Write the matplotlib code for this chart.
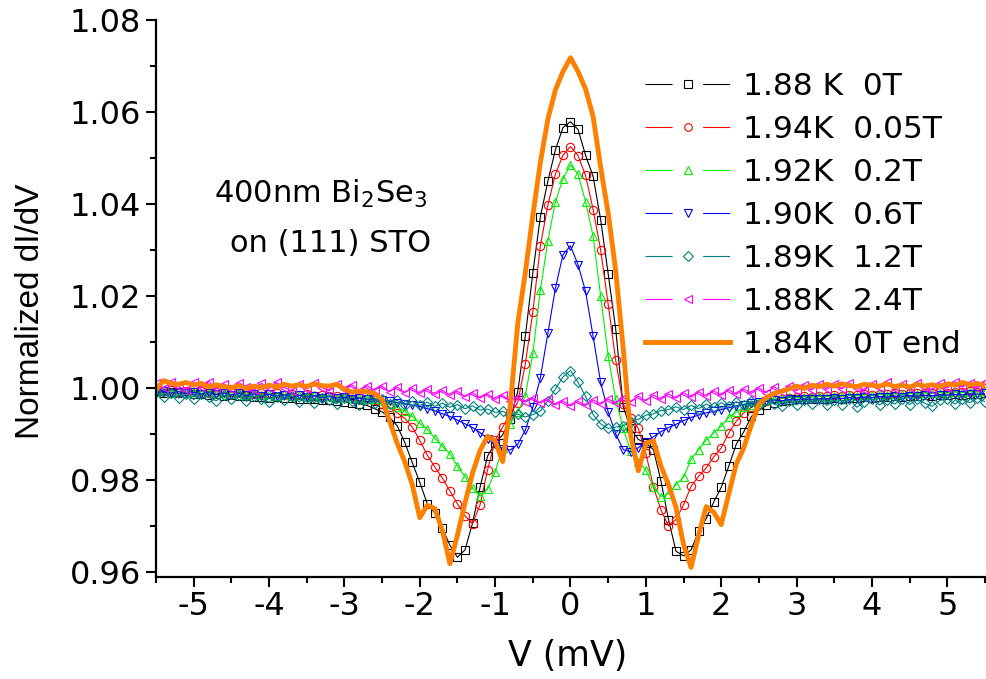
import numpy as np
import matplotlib
matplotlib.use('Agg')
import matplotlib.pyplot as plt
from matplotlib.lines import Line2D
from matplotlib.ticker import MultipleLocator, FormatStrFormatter

plt.rcParams['font.family'] = 'DejaVu Sans'
plt.rcParams['axes.unicode_minus'] = False
plt.rcParams['mathtext.default'] = 'regular'
plt.rcParams['lines.scale_dashes'] = False

# bias voltage (mV), 0.1 mV steps from -5.5 to 5.5
voltage = np.round(np.linspace(-5.5, 5.5, 111), 2)

# normalized dI/dV, one row = 10 points (last row 11)
didv_188K_0T = [
    0.9994, 0.9990, 0.9991, 0.9988, 0.9989, 0.9986, 0.9987, 0.9985, 0.9986, 0.9983,
    0.9984, 0.9982, 0.9983, 0.9980, 0.9981, 0.9979, 0.9980, 0.9978, 0.9979, 0.9976,
    0.9977, 0.9975, 0.9974, 0.9973, 0.9972, 0.9970, 0.9968, 0.9966, 0.9962, 0.9955,
    0.9948, 0.9936, 0.9918, 0.9882, 0.9838, 0.9795, 0.9748, 0.9728, 0.9695, 0.9658,
    0.9632, 0.9648, 0.9706, 0.9784, 0.9852, 0.9880, 0.9898, 0.9932, 0.9992, 1.0112,
    1.0250, 1.0372, 1.0450, 1.0518, 1.0566, 1.0579, 1.0562, 1.0506, 1.0460, 1.0366,
    1.0248, 1.0128, 0.9958, 0.9912, 0.9888, 0.9880, 0.9866, 0.9798, 0.9714, 0.9645,
    0.9635, 0.9648, 0.9688, 0.9716, 0.9752, 0.9784, 0.9830, 0.9878, 0.9905, 0.9938,
    0.9952, 0.9962, 0.9968, 0.9972, 0.9974, 0.9975, 0.9976, 0.9975, 0.9977, 0.9976,
    0.9978, 0.9977, 0.9979, 0.9978, 0.9980, 0.9979, 0.9981, 0.9980, 0.9982, 0.9981,
    0.9983, 0.9982, 0.9984, 0.9983, 0.9985, 0.9984, 0.9986, 0.9985, 0.9987, 0.9986, 0.9988,
]
didv_194K_005T = [
    0.9996, 0.9993, 0.9995, 0.9992, 0.9994, 0.9991, 0.9993, 0.9990, 0.9992, 0.9989,
    0.9991, 0.9988, 0.9990, 0.9987, 0.9989, 0.9986, 0.9988, 0.9985, 0.9987, 0.9984,
    0.9986, 0.9983, 0.9984, 0.9982, 0.9983, 0.9981, 0.9982, 0.9979, 0.9977, 0.9973,
    0.9966, 0.9958, 0.9946, 0.9934, 0.9915, 0.9886, 0.9854, 0.9828, 0.9804, 0.9776,
    0.9748, 0.9722, 0.9705, 0.9746, 0.9822, 0.9886, 0.9915, 0.9945, 0.9968, 1.0052,
    1.0165, 1.0309, 1.0398, 1.0465, 1.0506, 1.0525, 1.0505, 1.0462, 1.0388, 1.0300,
    1.0182, 1.0060, 0.9965, 0.9935, 0.9912, 0.9858, 0.9785, 0.9735, 0.9700, 0.9714,
    0.9746, 0.9786, 0.9808, 0.9826, 0.9850, 0.9870, 0.9902, 0.9928, 0.9946, 0.9958,
    0.9966, 0.9971, 0.9975, 0.9977, 0.9979, 0.9980, 0.9982, 0.9981, 0.9983, 0.9982,
    0.9984, 0.9983, 0.9985, 0.9984, 0.9986, 0.9985, 0.9987, 0.9986, 0.9988, 0.9987,
    0.9989, 0.9988, 0.9990, 0.9989, 0.9991, 0.9990, 0.9992, 0.9991, 0.9993, 0.9992, 0.9994,
]
didv_192K_02T = [
    0.9992, 0.9995, 0.9990, 0.9993, 0.9989, 0.9992, 0.9988, 0.9991, 0.9987, 0.9990,
    0.9986, 0.9989, 0.9985, 0.9988, 0.9984, 0.9987, 0.9983, 0.9986, 0.9982, 0.9985,
    0.9981, 0.9984, 0.9980, 0.9983, 0.9979, 0.9981, 0.9978, 0.9979, 0.9976, 0.9977,
    0.9972, 0.9966, 0.9958, 0.9950, 0.9938, 0.9923, 0.9910, 0.9891, 0.9873, 0.9857,
    0.9830, 0.9807, 0.9782, 0.9765, 0.9780, 0.9818, 0.9870, 0.9922, 0.9948, 0.9982,
    1.0075, 1.0213, 1.0320, 1.0405, 1.0455, 1.0485, 1.0465, 1.0405, 1.0330, 1.0200,
    1.0070, 0.9975, 0.9912, 0.9862, 0.9840, 0.9822, 0.9785, 0.9764, 0.9770, 0.9790,
    0.9806, 0.9845, 0.9866, 0.9887, 0.9902, 0.9917, 0.9936, 0.9948, 0.9958, 0.9964,
    0.9969, 0.9973, 0.9976, 0.9978, 0.9980, 0.9979, 0.9981, 0.9980, 0.9982, 0.9981,
    0.9983, 0.9982, 0.9984, 0.9983, 0.9985, 0.9984, 0.9986, 0.9985, 0.9987, 0.9986,
    0.9988, 0.9987, 0.9989, 0.9988, 0.9990, 0.9989, 0.9991, 0.9990, 0.9992, 0.9991, 0.9993,
]
didv_190K_06T = [
    0.9990, 0.9993, 0.9989, 0.9992, 0.9988, 0.9991, 0.9987, 0.9990, 0.9986, 0.9989,
    0.9985, 0.9988, 0.9984, 0.9987, 0.9983, 0.9986, 0.9982, 0.9985, 0.9981, 0.9984,
    0.9980, 0.9983, 0.9979, 0.9981, 0.9978, 0.9980, 0.9977, 0.9978, 0.9975, 0.9976,
    0.9973, 0.9971, 0.9968, 0.9966, 0.9963, 0.9960, 0.9955, 0.9950, 0.9944, 0.9938,
    0.9930, 0.9922, 0.9914, 0.9903, 0.9890, 0.9878, 0.9868, 0.9865, 0.9878, 0.9908,
    0.9958, 1.0022, 1.0119, 1.0217, 1.0290, 1.0309, 1.0268, 1.0210, 1.0112, 1.0012,
    0.9948, 0.9900, 0.9866, 0.9861, 0.9870, 0.9883, 0.9894, 0.9905, 0.9914, 0.9921,
    0.9929, 0.9936, 0.9941, 0.9946, 0.9949, 0.9953, 0.9957, 0.9961, 0.9964, 0.9967,
    0.9969, 0.9971, 0.9973, 0.9972, 0.9975, 0.9974, 0.9976, 0.9975, 0.9977, 0.9976,
    0.9978, 0.9977, 0.9979, 0.9978, 0.9980, 0.9979, 0.9981, 0.9980, 0.9982, 0.9981,
    0.9983, 0.9982, 0.9984, 0.9983, 0.9985, 0.9984, 0.9986, 0.9985, 0.9987, 0.9986, 0.9988,
]
didv_189K_12T = [
    0.9992, 0.9981, 0.9989, 0.9978, 0.9987, 0.9975, 0.9986, 0.9980, 0.9972, 0.9984,
    0.9975, 0.9985, 0.9971, 0.9982, 0.9976, 0.9969, 0.9981, 0.9974, 0.9983, 0.9970,
    0.9980, 0.9968, 0.9979, 0.9973, 0.9966, 0.9978, 0.9971, 0.9964, 0.9976, 0.9968,
    0.9975, 0.9966, 0.9973, 0.9964, 0.9971, 0.9962, 0.9969, 0.9960, 0.9967, 0.9958,
    0.9964, 0.9955, 0.9961, 0.9952, 0.9954, 0.9947, 0.9949, 0.9942, 0.9943, 0.9937,
    0.9942, 0.9950, 0.9972, 0.9998, 1.0024, 1.0038, 1.0012, 0.9982, 0.9942, 0.9922,
    0.9912, 0.9915, 0.9918, 0.9927, 0.9932, 0.9941, 0.9944, 0.9951, 0.9953, 0.9959,
    0.9953, 0.9962, 0.9955, 0.9965, 0.9958, 0.9968, 0.9960, 0.9970, 0.9962, 0.9972,
    0.9964, 0.9974, 0.9965, 0.9960, 0.9972, 0.9963, 0.9974, 0.9966, 0.9976, 0.9962,
    0.9973, 0.9964, 0.9975, 0.9958, 0.9970, 0.9976, 0.9963, 0.9974, 0.9965, 0.9977,
    0.9964, 0.9975, 0.9967, 0.9960, 0.9973, 0.9977, 0.9965, 0.9975, 0.9968, 0.9978, 0.9970,
]
didv_188K_24T = [
    1.0010, 1.0000, 1.0013, 1.0003, 0.9996, 1.0012, 1.0002, 1.0014, 0.9999, 1.0009,
    0.9998, 1.0011, 1.0003, 0.9995, 1.0010, 0.9999, 1.0012, 1.0001, 0.9994, 1.0008,
    0.9998, 1.0011, 1.0001, 0.9994, 1.0009, 0.9998, 1.0007, 0.9993, 1.0005, 0.9995,
    1.0004, 0.9992, 1.0002, 0.9990, 1.0000, 0.9988, 0.9998, 0.9986, 0.9995, 0.9984,
    0.9993, 0.9981, 0.9990, 0.9978, 0.9987, 0.9975, 0.9984, 0.9972, 0.9981, 0.9969,
    0.9978, 0.9967, 0.9975, 0.9963, 0.9972, 0.9961, 0.9971, 0.9962, 0.9974, 0.9965,
    0.9976, 0.9967, 0.9979, 0.9970, 0.9982, 0.9972, 0.9985, 0.9975, 0.9987, 0.9978,
    0.9990, 0.9980, 0.9992, 0.9982, 0.9994, 0.9984, 0.9996, 0.9986, 0.9998, 0.9988,
    1.0000, 0.9990, 1.0003, 0.9992, 1.0005, 0.9994, 1.0007, 0.9996, 1.0009, 0.9997,
    1.0008, 0.9998, 1.0011, 0.9999, 0.9995, 1.0009, 1.0000, 1.0012, 0.9998, 1.0008,
    0.9999, 1.0011, 1.0001, 0.9996, 1.0010, 1.0000, 1.0013, 1.0002, 1.0011, 0.9999, 1.0014,
]
didv_184K_0T_end = [
    0.9996, 1.0016, 1.0010, 1.0008, 1.0012, 1.0006, 1.0010, 1.0002, 1.0007, 1.0003,
    1.0001, 1.0005, 0.9999, 1.0004, 1.0001, 1.0006, 1.0002, 1.0008, 1.0004, 1.0007,
    1.0003, 1.0009, 1.0005, 1.0004, 1.0008, 0.9997, 0.9991, 0.9993, 0.9992, 0.9988,
    0.9975, 0.9928, 0.9880, 0.9840, 0.9790, 0.9718, 0.9745, 0.9738, 0.9690, 0.9618,
    0.9680, 0.9750, 0.9815, 0.9864, 0.9895, 0.9885, 0.9840, 0.9960, 1.0140, 1.0250,
    1.0375, 1.0490, 1.0585, 1.0648, 1.0688, 1.0718, 1.0688, 1.0650, 1.0590, 1.0480,
    1.0380, 1.0255, 1.0085, 0.9895, 0.9820, 0.9880, 0.9885, 0.9830, 0.9790, 0.9740,
    0.9660, 0.9610, 0.9680, 0.9742, 0.9730, 0.9703, 0.9770, 0.9835, 0.9870, 0.9920,
    0.9965, 0.9979, 0.9988, 0.9993, 0.9998, 1.0004, 0.9999, 1.0006, 1.0003, 1.0008,
    1.0004, 1.0009, 1.0005, 1.0003, 1.0008, 1.0006, 1.0004, 1.0009, 1.0003, 1.0006,
    1.0002, 1.0008, 1.0004, 1.0007, 1.0003, 1.0009, 1.0006, 1.0012, 1.0007, 1.0010, 1.0005,
]

labels = ['1.88 K  0T', '1.94K  0.05T', '1.92K  0.2T', '1.90K  0.6T',
          '1.89K  1.2T', '1.88K  2.4T', '1.84K  0T end']
colors = ['#000000', '#ff0000', '#00f000', '#0000ff', '#008080', '#ff00ff', '#ff8000']
markers = ['s', 'o', '^', 'v', 'D', '<']
marker_series = [didv_188K_0T, didv_194K_005T, didv_192K_02T,
                 didv_190K_06T, didv_189K_12T, didv_188K_24T]

fig = plt.figure(figsize=(9.86, 6.79), dpi=100)
ax = fig.add_axes([0.1582, 0.1502, 0.8408, 0.8203])

handles = []
for data, color, marker in zip(marker_series, colors, markers):
    ms = 5.4 if marker == 'D' else 6.0
    ax.plot(voltage, data, color=color, lw=0.8, marker=marker, ms=ms,
            mfc='none', mec=color, mew=0.8)
    # Origin style legend entry: line - marker - line
    seg = Line2D([], [], color=color, lw=0.8, dashes=(19.5, 22, 19.5, 20))
    mk = Line2D([], [], ls='none', marker=marker, ms=ms - 0.5, mfc='none', mec=color, mew=0.8)
    handles.append((seg, mk))

ax.plot(voltage, didv_184K_0T_end, color=colors[6], lw=3.5,
        solid_joinstyle='round', solid_capstyle='round')
handles.append(Line2D([], [], color=colors[6], lw=3.5))

ax.legend(handles, labels, loc='upper left', bbox_to_anchor=(0.59, 0.907),
          frameon=False, fontsize=22.5, borderpad=0, borderaxespad=0,
          handlelength=2.72, handletextpad=0.4, labelspacing=0.45)

ax.text(-3.32, 1.0422, '400nm Bi$_2$Se$_3$', fontsize=22, ha='center', va='center')
ax.text(-3.18, 1.0315, 'on (111) STO', fontsize=22, ha='center', va='center')

ax.set_xlim(-5.5, 5.5)
ax.set_ylim(0.9589, 1.08)
ax.xaxis.set_major_locator(MultipleLocator(1))
ax.xaxis.set_minor_locator(MultipleLocator(0.5))
ax.yaxis.set_major_locator(MultipleLocator(0.02))
ax.yaxis.set_minor_locator(MultipleLocator(0.01))
ax.xaxis.set_major_formatter(FormatStrFormatter('%d'))
ax.yaxis.set_major_formatter(FormatStrFormatter('%.2f'))

for side in ['top', 'right']:
    ax.spines[side].set_visible(False)
for side in ['left', 'bottom']:
    ax.spines[side].set_linewidth(1.6)

ax.tick_params(which='major', direction='out', length=7, width=1.5, labelsize=23)
ax.tick_params(which='minor', direction='out', length=4, width=1.5)
ax.tick_params(axis='x', which='major', pad=3)
ax.tick_params(axis='y', which='major', pad=4)

ax.set_xlabel('V (mV)', fontsize=25)
ax.xaxis.set_label_coords(0.497, -0.112)
ax.set_ylabel('Normalized dI/dV', family='Liberation Sans', fontsize=24)
ax.yaxis.set_label_coords(-0.133, 0.478)

fig.savefig('out.png', dpi=100)
